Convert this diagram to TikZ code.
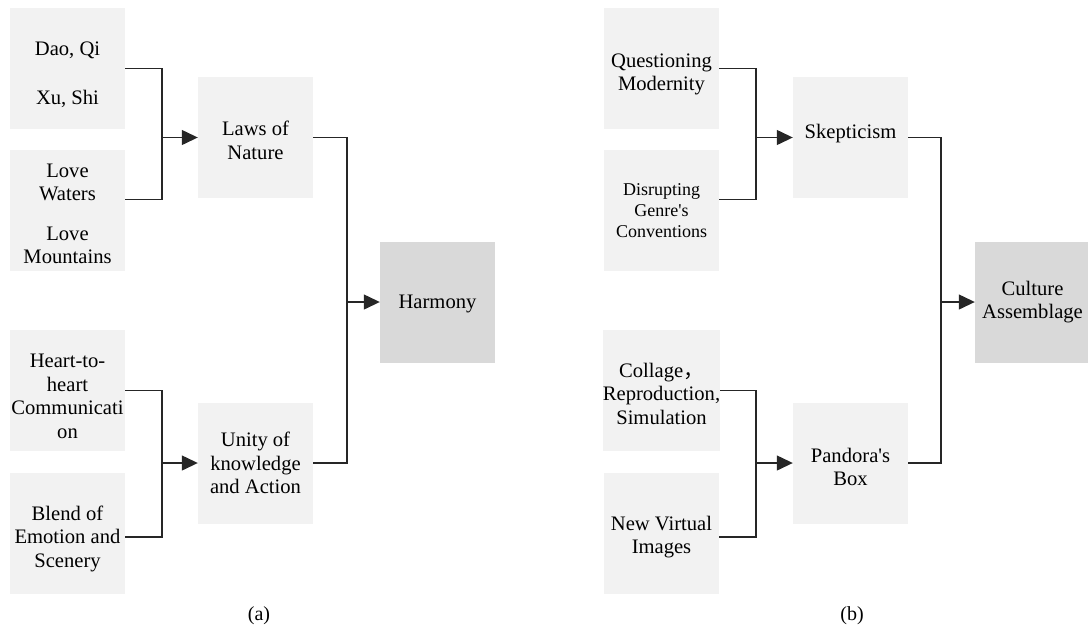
\documentclass[tikz,border=0pt]{standalone}
\usepackage{fontspec}
\setmainfont{Liberation Serif}[Ligatures=TeXOff]
\newfontfamily\cjk{Noto Sans CJK SC}
\usetikzlibrary{arrows.meta,calc}
\definecolor{boxlight}{HTML}{F2F2F2}
\definecolor{boxdark}{HTML}{D9D9D9}
\newcommand\tdn[1]{\rule{0pt}{#1}}
\newcommand\tup[1]{\rule[-#1]{0pt}{#1}}
\begin{document}
\begin{tikzpicture}[x=1pt,y=-1pt,
  box/.style={fill=boxlight,minimum width=115pt,minimum height=121pt,inner sep=0pt,align=center,
    font=\fontsize{20.6}{23.4}\selectfont},
  boxd/.style={box,fill=boxdark},
  smalltext/.style={font=\fontsize{18}{21}\selectfont},
  conn/.style={line width=1.3pt,draw=black!85},
  arr/.style={conn,-{Triangle[length=16pt,width=15pt]}},
  captext/.style={font=\fontsize{20}{22}\selectfont}]
\useasboundingbox (0,0) rectangle (1088,625);
% ---------- panel (a)
\node[box] (a1) at (67.5,68.5) {\tdn{26pt}Dao, Qi\\[26pt]Xu, Shi};
\node[box] (a2) at (67.5,210.5) {\tdn{20pt}Love\\Waters\\[16pt]Love\\Mountains};
\node[box] (laws) at (255.5,137.5) {\tdn{20pt}Laws of\\Nature};
\node[box] (a3) at (67.5,390.5) {\tdn{25pt}Heart-to-\\heart\\Communicati\\on};
\node[box] (a4) at (67.5,533) {\tdn{26pt}Blend of\\Emotion and\\Scenery};
\node[box] (unity) at (255.5,463) {Unity of\\knowledge\\and Action};
\node[boxd] (harm) at (437.5,302) {\tdn{18pt}Harmony};
\coordinate (ja) at (162,137.5);
\coordinate (jb) at (162,463);
\coordinate (jc) at (347,302);
\draw[conn] (a1.east) -| (ja);
\draw[conn] ($(a2.east)+(0,-11)$) -| (ja);
\draw[arr] (ja) -- (laws.west);
\draw[conn] (a3.east) -| (jb);
\draw[conn] ($(a4.east)+(0,4)$) -| (jb);
\draw[arr] (jb) -- (unity.west);
\draw[conn] (laws.east) -| (jc);
\draw[conn] (unity.east) -| (jc);
\draw[arr] (jc) -- (harm.west);
\node[captext] (capa) at (259,616) {(a)};
% ---------- panel (b)
\node[box] (b1) at (661.5,68.5) {\tdn{25pt}Questioning\\Modernity};
\node[box,smalltext] (b2) at (661.5,210.5) {Disrupting\\Genre's\\Conventions};
\node[box] (skep) at (850.5,137.5) {Skepticism\tup{11.5pt}};
\node[box] (b3) at (661.5,390.5) {\tdn{21pt}Collage{\cjk，}\\Reproduction,\\Simulation};
\node[box] (b4) at (661.5,533) {\tdn{23pt}New Virtual\\Images};
\node[box] (pand) at (850.5,463) {\tdn{22pt}Pandora's\\Box};
\node[boxd] (cult) at (1032.5,302) {Culture\\Assemblage};
\coordinate (jd) at (756,137.5);
\coordinate (je) at (756,463);
\coordinate (jf) at (941,302);
\draw[conn] (b1.east) -| (jd);
\draw[conn] ($(b2.east)+(0,-11)$) -| (jd);
\draw[arr] (jd) -- (skep.west);
\draw[conn] (b3.east) -| (je);
\draw[conn] ($(b4.east)+(0,4)$) -| (je);
\draw[arr] (je) -- (pand.west);
\draw[conn] (skep.east) -| (jf);
\draw[conn] (pand.east) -| (jf);
\draw[arr] (jf) -- (cult.west);
\node[captext] (capb) at (852,616) {(b)};
\end{tikzpicture}
\end{document}
